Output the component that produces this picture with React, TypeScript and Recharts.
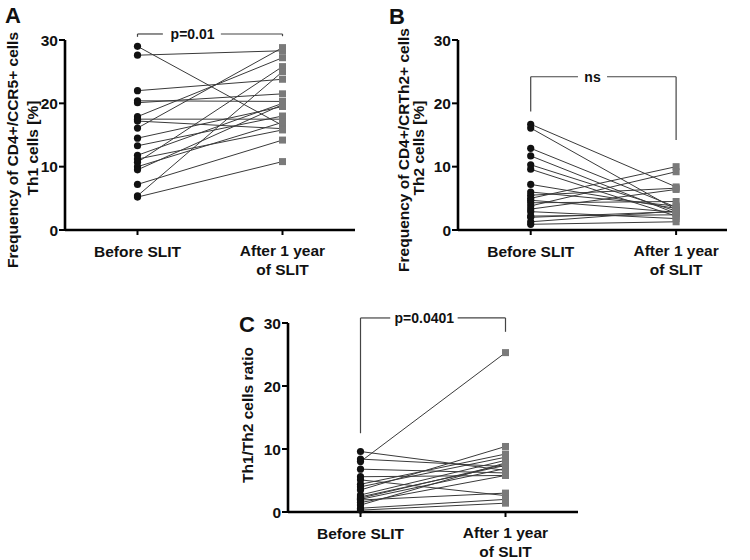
import { LineChart, Line, XAxis, YAxis, ReferenceLine, ReferenceDot } from 'recharts';

// subject values (before SLIT / after 1 year of SLIT)
const th1Before = [29.0, 27.6, 22.0, 20.4, 20.1, 17.9, 17.5, 17.2, 16.1, 14.5, 13.3, 11.8, 11.2, 10.7, 10.0, 9.5, 7.2, 5.4, 5.2];
const th1After = [16.5, 28.3, 23.8, 20.3, 21.5, 27.2, 17.5, 16.0, 28.8, 19.5, 18.0, 20.0, 15.8, 25.8, 17.0, 19.8, 14.2, 25.0, 10.8];

const th2Before = [16.7, 16.1, 12.9, 11.7, 10.3, 9.6, 7.2, 6.0, 5.5, 5.0, 4.7, 4.3, 3.8, 3.3, 2.9, 2.2, 2.0, 1.3, 0.9];
const th2After = [6.8, 3.2, 3.6, 2.6, 3.0, 2.2, 3.4, 3.8, 6.6, 10.0, 2.8, 4.5, 9.2, 6.4, 1.8, 2.4, 2.9, 3.0, 1.3];

const ratioBefore = [9.6, 8.4, 8.0, 6.8, 5.6, 5.1, 4.4, 4.0, 3.5, 2.7, 2.2, 1.9, 2.0, 1.1, 0.6, 0.3, 1.5, 2.4];
const ratioAfter = [6.6, 7.2, 25.3, 6.2, 5.8, 2.6, 9.2, 8.7, 10.4, 8.2, 7.6, 3.0, 6.9, 7.8, 2.0, 1.4, 5.8, 7.4];

const yTicks = [0, 10, 20, 30];
const groupTicks = [1, 3];

const FONT = '"Liberation Sans", Arial, sans-serif';

function renderDot(props: any) {
  const { cx, cy, index } = props;
  if (cx == null || cy == null) return <g key={props.key} />;
  if (index === 0) {
    return <circle key={props.key} cx={cx} cy={cy} r={3.6} fill="#111" />;
  }
  return <rect key={props.key} x={cx - 3.5} y={cy - 3.5} width={7} height={7} fill="#7a7a7a" />;
}

function GroupTick(props: any) {
  const { x, y, payload } = props;
  const style = { fontFamily: FONT, fontWeight: 700, fontSize: 15.5, fill: '#111' };
  if (payload.value === 1) {
    return (
      <text x={x} y={y + 20} textAnchor="middle" {...style}>
        Before SLIT
      </text>
    );
  }
  return (
    <text x={x} y={y + 19} textAnchor="middle" {...style}>
      <tspan x={x}>After 1 year</tspan>
      <tspan x={x} dy={19}>of SLIT</tspan>
    </text>
  );
}

type Bracket = { top: number; leftEnd: number; rightEnd: number; gapL: number; gapR: number; textX: number; text: string };

function PairedPanel({ before, after, xMax, width, height, marginRight, marginBottom, bracket }: {
  before: number[]; after: number[]; xMax: number; width: number; height: number;
  marginRight: number; marginBottom: number; bracket: Bracket;
}) {
  const lineStroke = '#3a3a3a';
  const bracketStroke = '#444';
  return (
    <LineChart width={width} height={height} margin={{ top: 40, right: marginRight, bottom: marginBottom, left: 0 }}>
      <XAxis
        type="number"
        dataKey="x"
        domain={[0, xMax]}
        ticks={groupTicks}
        tick={<GroupTick />}
        tickSize={5}
        tickMargin={2}
        height={30}
        axisLine={{ stroke: '#000', strokeWidth: 2.6 }}
        tickLine={{ stroke: '#000', strokeWidth: 2 }}
        interval={0}
      />
      <YAxis
        type="number"
        domain={[0, 30]}
        ticks={yTicks}
        width={65}
        tickSize={6}
        tickMargin={1}
        axisLine={{ stroke: '#000', strokeWidth: 2.6 }}
        tickLine={{ stroke: '#000', strokeWidth: 2 }}
        tick={{ fontFamily: FONT, fontWeight: 700, fontSize: 15.5, fill: '#111' }}
      />
      {before.map((b, i) => (
        <Line
          key={i}
          data={[{ x: 1, y: b }, { x: 3, y: after[i] }]}
          dataKey="y"
          stroke={lineStroke}
          strokeWidth={1}
          dot={renderDot}
          activeDot={false}
          isAnimationActive={false}
        />
      ))}
      <ReferenceLine ifOverflow="visible" stroke={bracketStroke} strokeWidth={1.2}
        segment={[{ x: 1, y: bracket.leftEnd }, { x: 1, y: bracket.top }]} />
      <ReferenceLine ifOverflow="visible" stroke={bracketStroke} strokeWidth={1.2}
        segment={[{ x: 1, y: bracket.top }, { x: bracket.gapL, y: bracket.top }]} />
      <ReferenceLine ifOverflow="visible" stroke={bracketStroke} strokeWidth={1.2}
        segment={[{ x: bracket.gapR, y: bracket.top }, { x: 3, y: bracket.top }]} />
      <ReferenceLine ifOverflow="visible" stroke={bracketStroke} strokeWidth={1.2}
        segment={[{ x: 3, y: bracket.top }, { x: 3, y: bracket.rightEnd }]} />
      <ReferenceDot
        ifOverflow="visible"
        x={bracket.textX}
        y={bracket.top}
        r={0}
        fill="none"
        stroke="none"
        label={{ value: bracket.text, position: 'center', fontFamily: FONT, fontWeight: 700, fontSize: 14, fill: '#111' }}
      />
    </LineChart>
  );
}

export default function App() {
  const labelStyle = { fontFamily: FONT, fontWeight: 700, fill: '#111' } as const;
  return (
    <div style={{ position: 'absolute', left: 0, top: 0, width: 750, height: 560, background: '#fff', overflow: 'hidden' }}>
      <div style={{ position: 'absolute', left: 0, top: 0 }}>
        <PairedPanel
          before={th1Before}
          after={th1After}
          xMax={4}
          width={370}
          height={280}
          marginRight={15}
          marginBottom={20}
          bracket={{ top: 30.95, leftEnd: 30.5, rightEnd: 30.6, gapL: 1.35, gapR: 2.15, textX: 1.76, text: 'p=0.01' }}
        />
      </div>
      <div style={{ position: 'absolute', left: 393, top: 0 }}>
        <PairedPanel
          before={th2Before}
          after={th2After}
          xMax={3.7}
          width={357}
          height={280}
          marginRight={23}
          marginBottom={20}
          bracket={{ top: 24.2, leftEnd: 18.7, rightEnd: 14.2, gapL: 1.65, gapR: 2.05, textX: 1.85, text: 'ns' }}
        />
      </div>
      <div style={{ position: 'absolute', left: 223, top: 283 }}>
        <PairedPanel
          before={ratioBefore}
          after={ratioAfter}
          xMax={4}
          width={370}
          height={277}
          marginRight={15}
          marginBottom={18}
          bracket={{ top: 30.8, leftEnd: 12.5, rightEnd: 28.6, gapL: 1.41, gapR: 2.34, textX: 1.88, text: 'p=0.0401' }}
        />
      </div>
      <svg width={750} height={560} style={{ position: 'absolute', left: 0, top: 0, pointerEvents: 'none' }}>
        <text x={5} y={23} fontSize={22} {...labelStyle}>A</text>
        <text transform="translate(18,150) rotate(-90)" textAnchor="middle" fontSize={15.5} {...labelStyle}>
          Frequency of CD4+/CCR5+ cells
        </text>
        <text transform="translate(38,148) rotate(-90)" textAnchor="middle" fontSize={15.5} {...labelStyle}>
          Th1 cells [%]
        </text>

        <text x={389} y={24} fontSize={22} {...labelStyle}>B</text>
        <text transform="translate(409,150) rotate(-90)" textAnchor="middle" fontSize={15.5} {...labelStyle}>
          Frequency of CD4+/CRTh2+ cells
        </text>
        <text transform="translate(424,148) rotate(-90)" textAnchor="middle" fontSize={15.5} {...labelStyle}>
          Th2 cells [%]
        </text>

        <text x={239} y={332} fontSize={22} {...labelStyle}>C</text>
        <text transform="translate(253,415) rotate(-90)" textAnchor="middle" fontSize={15.5} {...labelStyle}>
          Th1/Th2 cells ratio
        </text>
      </svg>
    </div>
  );
}
